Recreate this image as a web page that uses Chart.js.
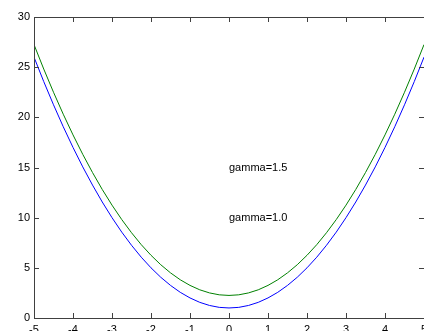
<!DOCTYPE html>
<html>
<head>
<meta charset="utf-8">
<title>gamma curves</title>
<script src="https://cdn.jsdelivr.net/npm/chart.js@4.4.1/dist/chart.umd.min.js"></script>
<style>
  html, body { margin: 0; padding: 0; background: #fff; overflow: hidden; }
  #wrap { position: relative; width: 424px; height: 331px; }
</style>
</head>
<body>
<div id="wrap"><canvas id="chart"></canvas></div>
<script>
// sample points along x
const xValues = [
  -5, -4.75, -4.5, -4.25, -4, -3.75, -3.5, -3.25, -3, -2.75, -2.5, -2.25, -2, -1.75, -1.5, -1.25, -1, -0.75, -0.5, -0.25,
  0, 0.25, 0.5, 0.75, 1, 1.25, 1.5, 1.75, 2, 2.25, 2.5, 2.75, 3, 3.25, 3.5, 3.75, 4, 4.25, 4.5, 4.75, 5
];

// gamma = 1.0 (blue)
const gamma10 = [
  26, 23.56, 21.25, 19.06, 17, 15.06, 13.25, 11.56, 10, 8.56, 7.25, 6.06, 5, 4.06, 3.25, 2.56, 2, 1.56, 1.25, 1.06,
  1, 1.06, 1.25, 1.56, 2, 2.56, 3.25, 4.06, 5, 6.06, 7.25, 8.56, 10, 11.56, 13.25, 15.06, 17, 19.06, 21.25, 23.56, 26
];

// gamma = 1.5 (green)
const gamma15 = [
  27.25, 24.81, 22.5, 20.31, 18.25, 16.31, 14.5, 12.81, 11.25, 9.81, 8.5, 7.31, 6.25, 5.31, 4.5, 3.81, 3.25, 2.81, 2.5, 2.31,
  2.25, 2.31, 2.5, 2.81, 3.25, 3.81, 4.5, 5.31, 6.25, 7.31, 8.5, 9.81, 11.25, 12.81, 14.5, 16.31, 18.25, 20.31, 22.5, 24.81, 27.25
];

// text labels placed in data coordinates
const notes = [
  { text: 'gamma=1.5', x: 0, y: 15 },
  { text: 'gamma=1.0', x: 0, y: 10 }
];

const FONT = '"Liberation Sans", Arial, sans-serif';
const AXIS_COLOR = '#404040';
const TICK_LEN = 5;

const toPoints = (ys) => xValues.map((x, i) => ({ x: x, y: ys[i] }));

// box around the plot area with inward ticks on every side
const boxAxes = {
  id: 'boxAxes',
  afterDraw(chart) {
    const { ctx, chartArea: a, scales } = chart;
    ctx.save();
    ctx.strokeStyle = AXIS_COLOR;
    ctx.lineWidth = 1;
    ctx.strokeRect(a.left + 0.5, a.top + 0.5, a.right - a.left, a.bottom - a.top);
    ctx.beginPath();
    scales.x.ticks.forEach(t => {
      const px = Math.round(scales.x.getPixelForValue(t.value)) + 0.5;
      ctx.moveTo(px, a.bottom);
      ctx.lineTo(px, a.bottom - TICK_LEN);
      ctx.moveTo(px, a.top);
      ctx.lineTo(px, a.top + TICK_LEN);
    });
    scales.y.ticks.forEach(t => {
      const py = Math.round(scales.y.getPixelForValue(t.value)) + 0.5;
      ctx.moveTo(a.left, py);
      ctx.lineTo(a.left + TICK_LEN, py);
      ctx.moveTo(a.right, py);
      ctx.lineTo(a.right - TICK_LEN, py);
    });
    ctx.stroke();

    ctx.fillStyle = '#000';
    ctx.font = '11px ' + FONT;
    ctx.textAlign = 'left';
    ctx.textBaseline = 'middle';
    notes.forEach(n => {
      ctx.fillText(n.text, scales.x.getPixelForValue(n.x), scales.y.getPixelForValue(n.y));
    });
    ctx.restore();
  }
};

new Chart(document.getElementById('chart'), {
  type: 'scatter',
  data: {
    datasets: [
      {
        label: 'gamma=1.0',
        data: toPoints(gamma10),
        showLine: true,
        borderColor: '#0000ff',
        borderWidth: 1,
        pointRadius: 0,
        tension: 0
      },
      {
        label: 'gamma=1.5',
        data: toPoints(gamma15),
        showLine: true,
        borderColor: '#008000',
        borderWidth: 1,
        pointRadius: 0,
        tension: 0
      }
    ]
  },
  options: {
    responsive: true,
    maintainAspectRatio: false,
    animation: false,
    events: [],
    layout: {
      autoPadding: false,
      padding: { top: 17, right: 0, left: 0, bottom: 0 }
    },
    plugins: {
      legend: { display: false },
      tooltip: { enabled: false }
    },
    scales: {
      x: {
        type: 'linear',
        min: -5,
        max: 5,
        grid: { display: false, drawTicks: false },
        border: { display: false },
        ticks: {
          stepSize: 1,
          padding: 5,
          color: '#000',
          font: { family: FONT, size: 11 },
          maxRotation: 0
        },
        afterFit(scale) {
          scale.height = 13;
          scale.paddingLeft = 0;
          scale.paddingRight = 0;
        }
      },
      y: {
        min: 0,
        max: 30,
        grid: { display: false, drawTicks: false },
        border: { display: false },
        ticks: {
          stepSize: 5,
          padding: 4,
          color: '#000',
          font: { family: FONT, size: 11 }
        },
        afterFit(scale) {
          scale.width = 34;
          scale.paddingTop = 0;
          scale.paddingBottom = 0;
        }
      }
    }
  },
  plugins: [boxAxes]
});
</script>
</body>
</html>
